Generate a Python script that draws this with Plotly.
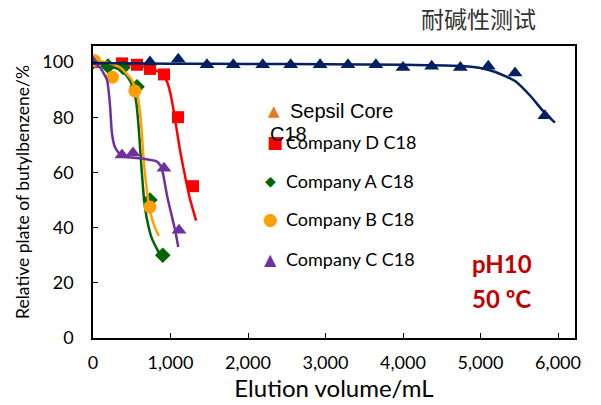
import plotly.graph_objects as go

# ---- data ----
# Sepsil Core C18 (navy)
sep_x = [735, 1100, 1470, 1810, 2190, 2550, 2930, 3290, 3650, 4000, 4370, 4740, 5100, 5445, 5830]
sep_y = [100, 101, 99, 99, 99, 99, 99, 99, 99, 98, 98.5, 98, 98.5, 96, 80.5]
sep_fit_x = [0, 1000, 2000, 3000, 4000, 4800, 5000, 5200, 5450, 5650, 5800, 5960]
sep_fit_y = [99.6, 99.4, 99.3, 99.2, 99.0, 98.5, 97.8, 96.3, 93, 87.5, 82.5, 78]

# Company D C18 (red)
d_x = [0, 374, 568, 735, 916, 1097, 1290]
d_y = [100, 99.5, 99, 97.5, 95.5, 80, 55]
d_fit_x = [0, 200, 400, 600, 800, 900, 960, 1000, 1040, 1080, 1120, 1160, 1200, 1250, 1300, 1330]
d_fit_y = [100, 99.6, 99.2, 98.6, 97.2, 95.3, 92.5, 88.5, 82.5, 75.5, 68.5, 62.5, 57, 50.5, 45.5, 42.5]

# Company A C18 (green)
a_x = [0, 194, 387, 568, 735, 900]
a_y = [100, 98.5, 98, 91, 50, 30]
a_fit_x = [0, 200, 350, 450, 520, 560, 590, 610, 630, 660, 700, 760, 830, 890]
a_fit_y = [100, 98.6, 97.2, 94.5, 90.5, 85, 76, 68, 60, 50, 42.5, 36, 32, 29]

# Company B C18 (orange)
b_x = [20, 250, 540, 735]
b_y = [100.5, 94.5, 89.5, 47.5]
b_fit_x = [0, 150, 350, 500, 580, 620, 650, 680, 735, 800, 850]
b_fit_y = [100.5, 100, 98, 93.5, 87, 78, 66, 57, 46, 40, 37]

# Company C C18 (purple)
c_x = [0, 374, 516, 916, 1110]
c_y = [100, 66.3, 67, 61.5, 39]
c_fit_x = [0, 90, 180, 220, 245, 285, 370, 640, 820, 870, 900, 960, 1060, 1100]
c_fit_y = [100, 98, 93.5, 84, 74, 69, 66, 65, 64, 62.5, 60, 51, 39, 33]

x_ticks = [0, 1000, 2000, 3000, 4000, 5000, 6000]
y_ticks = [0, 20, 40, 60, 80, 100]

NAVY = "#002060"
RED = "#FF0000"
GREEN = "#006400"
ORANGE = "#FFA000"
PURPLE = "#7030A0"

fig = go.Figure()

def add_series(fx, fy, mx, my, color, symbol, size):
    fig.add_trace(go.Scatter(x=fx, y=fy, mode="lines", line=dict(color=color, width=2.5, shape="spline", smoothing=0.6),
                             showlegend=False, hoverinfo="skip"))
    fig.add_trace(go.Scatter(x=mx, y=my, mode="markers", marker=dict(color=color, symbol=symbol, size=size),
                             showlegend=False))

add_series(d_fit_x, d_fit_y, d_x, d_y, RED, "square", 12)
add_series(a_fit_x, a_fit_y, a_x, a_y, GREEN, "diamond", 12)
add_series(b_fit_x, b_fit_y, b_x, b_y, ORANGE, "circle", 13)
add_series(c_fit_x, c_fit_y, c_x, c_y, PURPLE, "triangle-up", 13)
add_series(sep_fit_x, sep_fit_y, sep_x, sep_y, NAVY, "triangle-up", 13)

W, H = 601, 405
L, R, T, B = 93, 26, 46, 67

def px(xp):
    return (xp - L) / (W - L - R)

def py(yp):
    return (H - B - yp) / (H - T - B)

ann = []
lab_font = dict(family="Lato, Open Sans, sans-serif", size=18, color="#000000")
# legend-like annotations
legend_items = [
    ("▲", "#E87722", 15, 274, 111),
    ("■", RED, 17, 275, 142),
    ("◆", GREEN, 14, 270, 181),
    ("●", ORANGE, 17, 270, 219),
    ("▲", PURPLE, 16, 270, 259),
]
for sym, col, sz, xp, yp in legend_items:
    ann.append(dict(x=px(xp), y=py(yp), xref="paper", yref="paper", text=sym, showarrow=False,
                    font=dict(size=sz, color=col, family="DejaVu Sans"), xanchor="center", yanchor="middle"))
legend_texts = [
    ("Company D C18", 142),
    ("Company A C18", 181),
    ("Company B C18", 219),
    ("Company C C18", 259),
]
for t, yp in legend_texts:
    ann.append(dict(x=px(284), y=py(yp), xref="paper", yref="paper", text=t, showarrow=False,
                    font=lab_font, xanchor="left", yanchor="middle"))
ann.append(dict(x=px(288), y=py(111), xref="paper", yref="paper", text="Sepsil Core", showarrow=False,
                font=dict(family="Liberation Sans, Arial", size=20, color="#000000"), xanchor="left", yanchor="middle"))
ann.append(dict(x=px(268), y=py(134), xref="paper", yref="paper", text="C18", showarrow=False,
                font=dict(family="Liberation Sans, Arial", size=20, color="#000000"), xanchor="left", yanchor="middle"))
# conditions
ann.append(dict(x=px(470), y=py(263), xref="paper", yref="paper", text="<b>pH10</b>", showarrow=False,
                font=dict(family="Lato, sans-serif", size=24, color="#C00000"), xanchor="left", yanchor="middle"))
ann.append(dict(x=px(470), y=py(298), xref="paper", yref="paper", text="<b>50 ºC</b>", showarrow=False,
                font=dict(family="Lato, sans-serif", size=24, color="#C00000"), xanchor="left", yanchor="middle"))
# title
ann.append(dict(x=px(478), y=py(18), xref="paper", yref="paper", text="耐碱性测试", showarrow=False,
                font=dict(family="Noto Sans CJK SC", size=23, color="#333333"), xanchor="center", yanchor="middle"))

fig.update_layout(
    width=W, height=H,
    margin=dict(l=L, r=R, t=T, b=B),
    plot_bgcolor="white", paper_bgcolor="white",
    showlegend=False,
    annotations=ann,
    font=dict(family="Lato, Open Sans, sans-serif", color="#000000"),
)
fig.update_xaxes(range=[0, 6219], tickvals=x_ticks, ticktext=[f"{v:,}" for v in x_ticks],
                 showgrid=False, zeroline=False, showline=True, linecolor="#000000", linewidth=1.5, mirror=True,
                 ticks="inside", ticklen=5, tickcolor="#000000", tickfont=dict(size=18), ticklabelstandoff=8,
                 title=dict(text="Elution volume/mL", font=dict(size=24), standoff=4))
fig.update_yaxes(range=[0, 105.8], tickvals=y_ticks, showgrid=False, zeroline=False, showline=True,
                 linecolor="#000000", linewidth=1.5, mirror=True, ticks="inside", ticklen=5, tickcolor="#000000",
                 tickfont=dict(size=18), ticklabelstandoff=14,
                 title=dict(text="Relative plate of butylbenzene/%", font=dict(size=17.5), standoff=8))

fig.write_html("out.html")
